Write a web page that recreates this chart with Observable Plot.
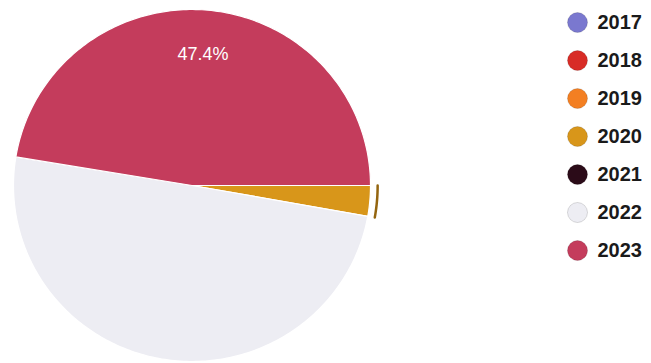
<!DOCTYPE html>
<html>
<head>
<meta charset="utf-8">
<script src="https://cdn.jsdelivr.net/npm/d3@7"></script>
<script src="https://cdn.jsdelivr.net/npm/@observablehq/plot@0.6"></script>
<style>
  html, body { margin: 0; padding: 0; background: #fff; }
  #wrap { display: flex; flex-direction: row; width: 651px; height: 363px; }
  svg { display: block; }
</style>
</head>
<body>
<div id="wrap"></div>
<script>
// Data
const years  = ["2017", "2018", "2019", "2020", "2021", "2022", "2023"];
const shares = [0, 0, 0, 2.8, 0, 49.8, 47.4];           // percent of total
const colors = ["#7a78cf", "#d82c26", "#f37f22", "#d8961a", "#2b0b18", "#ededf3", "#c43c5c"];
const labelledYears = ["2023"];

// Build slice geometry (clockwise from 3 o'clock), unit-circle coordinates
const total = d3.sum(shares);
let cum = 0;
const slices = years.map((year, i) => {
  const a0 = -cum / total * 2 * Math.PI;
  cum += shares[i];
  const a1 = -cum / total * 2 * Math.PI;
  return {year, share: shares[i], a0, a1};
});

const polyPts = [];
for (const s of slices) {
  if (s.share <= 0) continue;
  const n = Math.max(2, Math.ceil(Math.abs(s.a1 - s.a0) / (Math.PI / 180)));
  polyPts.push({year: s.year, x: 0, y: 0});
  for (let k = 0; k <= n; k++) {
    const a = s.a0 + (s.a1 - s.a0) * k / n;
    polyPts.push({year: s.year, x: Math.cos(a), y: Math.sin(a)});
  }
  polyPts.push({year: s.year, x: 0, y: 0});
}

// thin outer rim detail next to the 2020 wedge
const rimPts = [];
for (const s of slices.filter(s => s.year === "2020")) {
  const n = 10;
  for (let k = 0; k <= n; k++) {
    const a = s.a0 + (s.a1 - s.a0) * k / n;
    rimPts.push({x: 1.04 * Math.cos(a), y: 1.04 * Math.sin(a)});
  }
}

const labels = slices.filter(s => labelledYears.includes(s.year)).map(s => {
  const m = (s.a0 + s.a1) / 2;
  return {x: 0.75 * Math.cos(m), y: 0.75 * Math.sin(m), text: s.share.toFixed(1) + "%"};
});

const pie = Plot.plot({
  width: 560,
  height: 363,
  x: {domain: [-1, 1], range: [13, 370], axis: null},
  y: {domain: [-1, 1], range: [361, 9], axis: null},
  color: {domain: years, range: colors},
  style: {fontFamily: "Liberation Sans, Arial, sans-serif"},
  marks: [
    Plot.line(polyPts, {x: "x", y: "y", z: "year", fill: "year", stroke: "white", strokeWidth: 1.2, strokeLinejoin: "round", curve: "linear"}),
    Plot.line(rimPts, {x: "x", y: "y", stroke: "#94650f", strokeWidth: 2.5}),
    Plot.text(labels, {x: "x", y: "y", text: "text", fill: "white", fontSize: 18, fontWeight: "normal"})
  ]
});

const legend = Plot.plot({
  width: 91,
  height: 363,
  margin: 0,
  x: {domain: [0, 1], range: [0, 91], axis: null},
  y: {type: "point", domain: years, range: [21, 250], padding: 0, axis: null},
  color: {domain: years, range: colors},
  style: {fontFamily: "Liberation Sans, Arial, sans-serif"},
  marks: [
    Plot.dot(years, {y: d => d, fill: d => d, r: 10, frameAnchor: "left", dx: 17, stroke: "#00000022", strokeWidth: 1}),
    Plot.text(years, {y: d => d, text: d => d, frameAnchor: "left", dx: 37, textAnchor: "start", fontSize: 20, fontWeight: "bold", fill: "#1a1a1a"})
  ]
});

document.getElementById("wrap").append(pie, legend);
</script>
</body>
</html>
